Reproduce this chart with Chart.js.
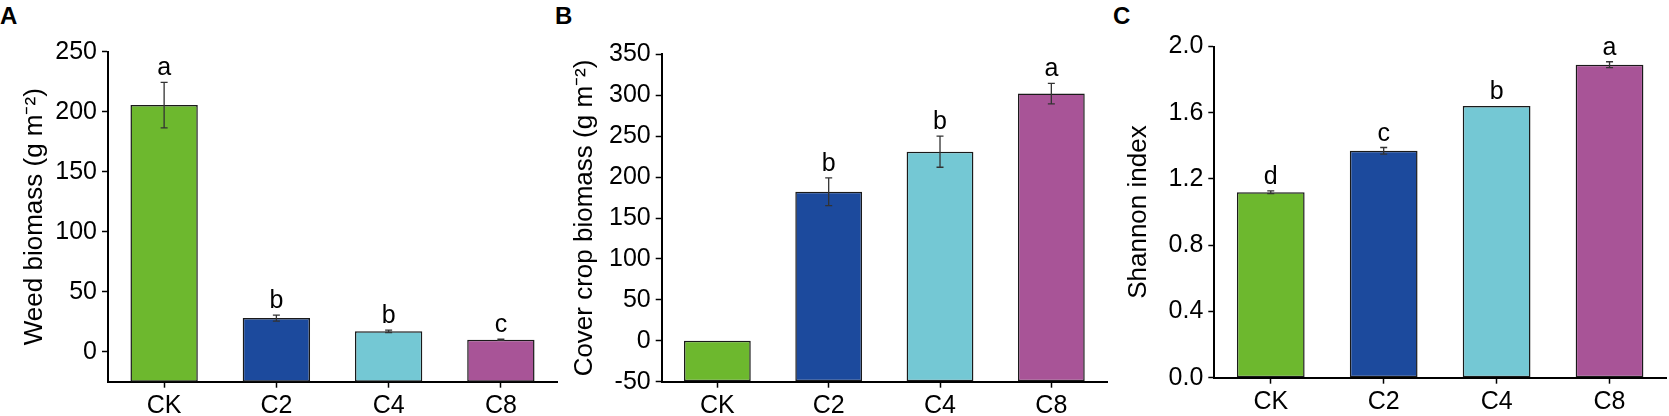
<!DOCTYPE html>
<html>
<head>
<meta charset="utf-8">
<script src="https://cdn.jsdelivr.net/npm/chart.js@4.4.1/dist/chart.umd.min.js"></script>
<style>
  body { margin:0; width:1669px; height:416px; background:#fff; position:relative; overflow:hidden;
         font-family:"Liberation Sans", Arial, sans-serif; }
  canvas { position:absolute; top:0; }
  .tag { position:absolute; top:2px; font-weight:bold; font-size:24px; line-height:27px; color:#000; }
</style>
</head>
<body>
<div class="tag" style="left:0px">A</div>
<div class="tag" style="left:555px">B</div>
<div class="tag" style="left:1113px">C</div>
<canvas id="chartA" width="560" height="416" style="left:0px"></canvas>
<canvas id="chartB" width="550" height="416" style="left:560px"></canvas>
<canvas id="chartC" width="559" height="416" style="left:1110px"></canvas>
<script>
// treatments
var groups = ['CK', 'C2', 'C4', 'C8'];
var barColors = ['#6db82e', '#1c4a9d', '#74c8d4', '#a85497'];

// A: weed biomass (g m-2)
var weedMean = [205.5, 28, 17, 10];
var weedErr = [19, 2.5, 1, 0.5];
var weedLetters = ['a', 'b', 'b', 'c'];

// B: cover crop biomass (g m-2)
var coverMean = [0, 182, 231, 302];
var coverErr = [0, 17, 19, 12.5];
var coverLetters = ['', 'b', 'b', 'a'];

// C: Shannon index
var shannonMean = [1.12, 1.37, 1.64, 1.89];
var shannonErr = [0.008, 0.02, 0, 0.018];
var shannonLetters = ['d', 'c', 'b', 'a'];

var FONT = '"Liberation Sans", Arial, sans-serif';

/**
* Error bars plus the significance letters above each bar.
**/
var errorPlugin = {
  id: 'errorBars',
  afterDatasetsDraw(chart) {
    var ctx = chart.ctx;
    var ds = chart.data.datasets[0];
    var y = chart.scales.y;
    ctx.save();
    ctx.strokeStyle = '#333';
    ctx.lineWidth = 1.3;
    ctx.fillStyle = '#000';
    ctx.font = '25px ' + FONT;
    ctx.textAlign = 'center';
    ctx.textBaseline = 'alphabetic';
    chart.getDatasetMeta(0).data.forEach((bar, i) => {
      var v = ds.data[i], e = ds.errors[i];
      var top = y.getPixelForValue(v + e);
      if (e > 0) {
        var bot = y.getPixelForValue(v - e);
        ctx.beginPath();
        ctx.moveTo(bar.x, top); ctx.lineTo(bar.x, bot);
        ctx.moveTo(bar.x - 3.5, top); ctx.lineTo(bar.x + 3.5, top);
        ctx.moveTo(bar.x - 3.5, bot); ctx.lineTo(bar.x + 3.5, bot);
        ctx.stroke();
      }
      if (ds.letters[i]) ctx.fillText(ds.letters[i], bar.x, Math.min(top, bar.y) - 7);
    });
    ctx.restore();
  }
};

function makePanel(id, cfg) {
  return new Chart(document.getElementById(id), {
    type: 'bar',
    data: {
      labels: groups,
      datasets: [{
        data: cfg.mean,
        errors: cfg.err,
        letters: cfg.letters,
        base: cfg.min,
        backgroundColor: barColors,
        borderColor: '#1a1a1a',
        borderWidth: 1.5,
        borderSkipped: false,
        categoryPercentage: 1,
        barPercentage: 0.6
      }]
    },
    options: {
      responsive: false,
      animation: false,
      devicePixelRatio: 1,
      layout: { padding: { top: cfg.top, right: 3, left: 0, bottom: 0 } },
      plugins: { legend: { display: false }, tooltip: { enabled: false } },
      scales: {
        x: {
          grid: { offset: false, drawOnChartArea: false, tickLength: 6, tickColor: '#000', tickWidth: 1.5 },
          border: { color: '#000', width: 2 },
          ticks: { color: '#000', padding: 3, font: { family: FONT, size: 25 } },
          afterFit(scale) { scale.height = cfg.xHeight; }
        },
        y: {
          min: cfg.min,
          max: cfg.max,
          grid: { drawOnChartArea: false, tickLength: 6, tickColor: '#000', tickWidth: 1.5 },
          border: { color: '#000', width: 2 },
          ticks: {
            stepSize: cfg.step,
            color: '#000',
            padding: 5,
            font: { family: FONT, size: 25 },
            callback: cfg.fmt
          },
          title: {
            display: true,
            text: cfg.title,
            color: '#000',
            font: { family: FONT, size: 26 },
            padding: { top: cfg.titlePad, bottom: 0 }
          },
          afterBuildTicks(scale) {
            scale.ticks = scale.ticks.filter(t => t.value >= cfg.firstTick);
          },
          afterFit(scale) { scale.width = cfg.yWidth; }
        }
      }
    },
    plugins: [errorPlugin]
  });
}

makePanel('chartA', {
  mean: weedMean, err: weedErr, letters: weedLetters,
  min: -25, max: 250, step: 50, firstTick: 0,
  title: 'Weed biomass (g m\u207B\u00B2)',
  top: 51.7, xHeight: 34.3, yWidth: 108, titlePad: 19,
  fmt: v => v
});

makePanel('chartB', {
  mean: coverMean, err: coverErr, letters: coverLetters,
  min: -50, max: 350, step: 50, firstTick: -50,
  title: 'Cover crop biomass (g m\u207B\u00B2)',
  top: 54.3, xHeight: 34.3, yWidth: 101.7, titlePad: 9.5,
  fmt: v => v
});

makePanel('chartC', {
  mean: shannonMean, err: shannonErr, letters: shannonLetters,
  min: 0, max: 2, step: 0.4, firstTick: 0,
  title: 'Shannon index',
  top: 46.5, xHeight: 38.3, yWidth: 104.3, titlePad: 13,
  fmt: v => Number(v).toFixed(1)
});
</script>
</body>
</html>
